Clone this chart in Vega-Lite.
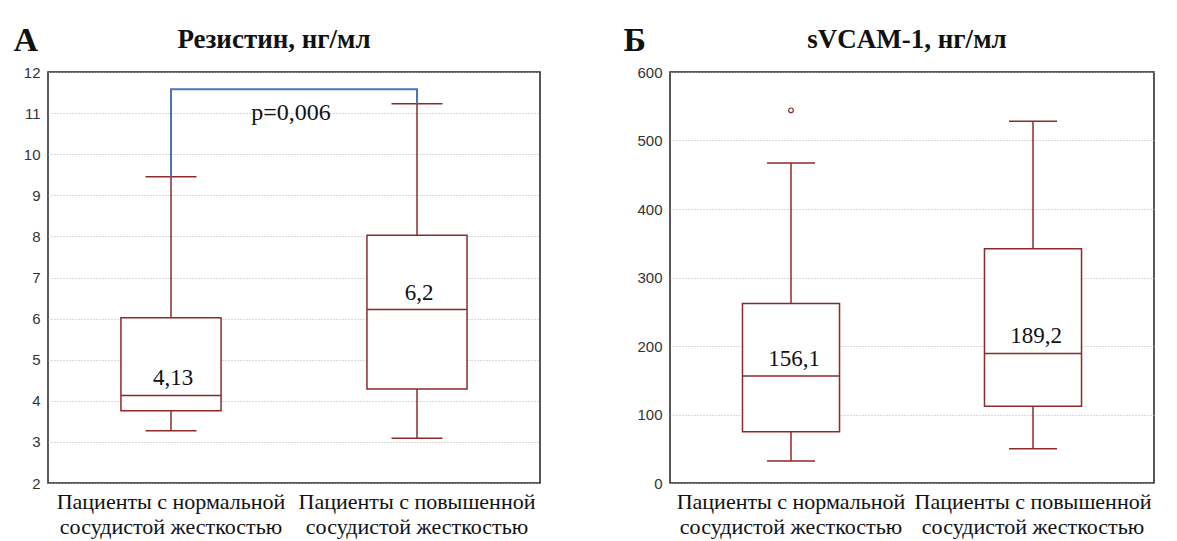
{
  "$schema": "https://vega.github.io/schema/vega-lite/v6.json",
  "padding": {"left": 12, "top": 22, "right": 5, "bottom": 5},
  "background": "white",
  "bounds": "flush",
  "spacing": 130,
  "config": {
    "view": {"stroke": "#222", "strokeWidth": 1.5},
    "axisX": {"title": null, "labelAngle": 0, "labelFont": "Liberation Serif", "labelFontSize": 22, "labelColor": "#111", "labelLimit": 400, "labelLineHeight": 25, "labelPadding": 8, "ticks": false, "domain": false, "grid": false},
    "axisY": {"grid": true, "gridDash": [1, 2], "gridColor": "#b5b5b5", "ticks": false, "domain": false, "labelFont": "Liberation Sans", "labelFontSize": 15, "labelColor": "#333", "labelPadding": 8, "titleAngle": 0, "titleFont": "Liberation Serif", "titleFontSize": 34, "titleFontWeight": "bold", "titleColor": "#111", "titleAlign": "left", "titleBaseline": "alphabetic", "titleY": -22},
    "title": {"font": "Liberation Serif", "fontSize": 27, "fontWeight": "bold", "color": "#111", "offset": -31}
  },
  "datasets": {
    "resA": [
      {"g": "Пациенты  с нормальной|сосудистой  жесткостью", "lo": 3.27, "q1": 3.76, "med": 4.13, "q3": 6.02, "hi": 9.45, "lab": "4,13"},
      {"g": "Пациенты  с повышенной|сосудистой  жесткостью", "lo": 3.09, "q1": 4.29, "med": 6.22, "q3": 8.03, "hi": 11.23, "lab": "6,2"}
    ],
    "bracketA": [
      {"g": "Пациенты  с нормальной|сосудистой  жесткостью", "v": 9.45, "o": 1},
      {"g": "Пациенты  с нормальной|сосудистой  жесткостью", "v": 11.58, "o": 2},
      {"g": "Пациенты  с повышенной|сосудистой  жесткостью", "v": 11.58, "o": 3},
      {"g": "Пациенты  с повышенной|сосудистой  жесткостью", "v": 11.23, "o": 4}
    ],
    "pA": [
      {"g": "Пациенты  с нормальной|сосудистой  жесткостью", "v": 11.0, "t": "p=0,006"}
    ],
    "resB": [
      {"g": "Пациенты  с нормальной|сосудистой  жесткостью", "lo": 32, "q1": 75, "med": 156.1, "q3": 262, "hi": 467, "lab": "156,1"},
      {"g": "Пациенты  с повышенной|сосудистой  жесткостью", "lo": 50, "q1": 112, "med": 189.2, "q3": 342, "hi": 528, "lab": "189,2"}
    ],
    "outB": [
      {"g": "Пациенты  с нормальной|сосудистой  жесткостью", "v": 544}
    ]
  },
  "hconcat": [
    {
      "width": 492,
      "height": 411,
      "title": {"text": "Резистин, нг/мл", "dx": -20},
      "encoding": {
        "x": {"field": "g", "type": "nominal", "sort": null, "scale": {"paddingInner": 0, "paddingOuter": 0}, "axis": {"labelExpr": "split(datum.value, '|')"}}
      },
      "layer": [
        {
          "data": {"name": "resA"},
          "mark": {"type": "rule", "color": "#8c2a2a", "strokeWidth": 1.5},
          "encoding": {
            "y": {"field": "lo", "type": "quantitative", "scale": {"domain": [2, 12], "nice": false, "zero": false}, "axis": {"title": "А", "titleX": -35, "values": [2, 3, 4, 5, 6, 7, 8, 9, 10, 11, 12]}},
            "y2": {"field": "hi"}
          }
        },
        {
          "data": {"name": "resA"},
          "mark": {"type": "bar", "width": {"band": 0.407}, "fill": "white", "stroke": "#8c2a2a", "strokeWidth": 1.5},
          "encoding": {"y": {"field": "q1", "type": "quantitative"}, "y2": {"field": "q3"}}
        },
        {
          "data": {"name": "resA"},
          "mark": {"type": "tick", "size": 100, "thickness": 1.5, "color": "#8c2a2a", "opacity": 1},
          "encoding": {"y": {"field": "med", "type": "quantitative"}}
        },
        {
          "data": {"name": "resA"},
          "mark": {"type": "tick", "size": 51, "thickness": 1.5, "color": "#8c2a2a", "opacity": 1},
          "encoding": {"y": {"field": "lo", "type": "quantitative"}}
        },
        {
          "data": {"name": "resA"},
          "mark": {"type": "tick", "size": 51, "thickness": 1.5, "color": "#8c2a2a", "opacity": 1},
          "encoding": {"y": {"field": "hi", "type": "quantitative"}}
        },
        {
          "data": {"name": "resA"},
          "mark": {"type": "text", "font": "Liberation Serif", "fontSize": 23, "color": "#111", "dy": -17, "dx": 2, "baseline": "middle"},
          "encoding": {"y": {"field": "med", "type": "quantitative"}, "text": {"field": "lab"}}
        },
        {
          "data": {"name": "bracketA"},
          "mark": {"type": "line", "color": "#4a73c0", "strokeWidth": 2},
          "encoding": {"y": {"field": "v", "type": "quantitative"}, "order": {"field": "o"}}
        },
        {
          "data": {"name": "pA"},
          "mark": {"type": "text", "font": "Liberation Serif", "fontSize": 24, "color": "#111", "dx": 120, "baseline": "middle"},
          "encoding": {"y": {"field": "v", "type": "quantitative"}, "text": {"field": "t"}}
        }
      ]
    },
    {
      "width": 484,
      "height": 411,
      "title": {"text": "sVCAM-1, нг/мл", "dx": -5},
      "encoding": {
        "x": {"field": "g", "type": "nominal", "sort": null, "scale": {"paddingInner": 0, "paddingOuter": 0}, "axis": {"labelExpr": "split(datum.value, '|')"}}
      },
      "layer": [
        {
          "data": {"name": "resB"},
          "mark": {"type": "rule", "color": "#8c2a2a", "strokeWidth": 1.5},
          "encoding": {
            "y": {"field": "lo", "type": "quantitative", "scale": {"domain": [0, 600], "nice": false}, "axis": {"title": "Б", "titleX": -47, "values": [0, 100, 200, 300, 400, 500, 600]}},
            "y2": {"field": "hi"}
          }
        },
        {
          "data": {"name": "resB"},
          "mark": {"type": "bar", "width": {"band": 0.401}, "fill": "white", "stroke": "#8c2a2a", "strokeWidth": 1.5},
          "encoding": {"y": {"field": "q1", "type": "quantitative"}, "y2": {"field": "q3"}}
        },
        {
          "data": {"name": "resB"},
          "mark": {"type": "tick", "size": 97, "thickness": 1.5, "color": "#8c2a2a", "opacity": 1},
          "encoding": {"y": {"field": "med", "type": "quantitative"}}
        },
        {
          "data": {"name": "resB"},
          "mark": {"type": "tick", "size": 48, "thickness": 1.5, "color": "#8c2a2a", "opacity": 1},
          "encoding": {"y": {"field": "lo", "type": "quantitative"}}
        },
        {
          "data": {"name": "resB"},
          "mark": {"type": "tick", "size": 48, "thickness": 1.5, "color": "#8c2a2a", "opacity": 1},
          "encoding": {"y": {"field": "hi", "type": "quantitative"}}
        },
        {
          "data": {"name": "outB"},
          "mark": {"type": "point", "shape": "circle", "size": 22, "filled": false, "color": "#8c2a2a", "strokeWidth": 1.2, "opacity": 1},
          "encoding": {"y": {"field": "v", "type": "quantitative"}}
        },
        {
          "data": {"name": "resB"},
          "mark": {"type": "text", "font": "Liberation Serif", "fontSize": 23, "color": "#111", "dy": -17, "dx": 3, "baseline": "middle"},
          "encoding": {"y": {"field": "med", "type": "quantitative"}, "text": {"field": "lab"}}
        }
      ]
    }
  ]
}
